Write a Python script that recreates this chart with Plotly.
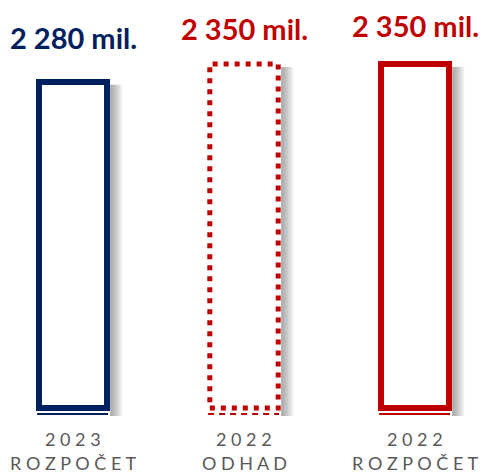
import plotly.graph_objects as go

# ---- data ----
YEARS = ["2023", "2022", "2022"]
KINDS = ["ROZPOČET", "ODHAD", "ROZPOČET"]
VALUES = [2280, 2350, 2350]
VALUE_LABELS = ["2 280 mil.", "2 350 mil.", "2 350 mil."]

# ---- style ----
NAVY = "#002060"
RED = "#C00000"
GRAY_TXT = "#595959"
EDGE_COLORS = [NAVY, RED, RED]
EDGE_DASH = [None, "5px,6px", None]
LABEL_SHIFT = [44, 35, 38]
AXIS_BASE = 1000
BAR_W = 0.4
LINE_W = 6
FONT = "Lato"

def spaced(s):
    return " ".join(list(s))

cats = [f"{y} {k}" for y, k in zip(YEARS, KINDS)]

fig = go.Figure()
shapes = []
annotations = []

for i, (c, v) in enumerate(zip(cats, VALUES)):
    dashed = EDGE_DASH[i] is not None
    fig.add_trace(go.Bar(
        x=[c], y=[v - AXIS_BASE], base=[AXIS_BASE], width=[BAR_W],
        marker=dict(color="white",
                    line=dict(color=EDGE_COLORS[i], width=0 if dashed else LINE_W)),
        hoverinfo="skip", showlegend=False,
    ))
    # soft shadow on the right side
    for k in range(1, 8):
        shapes.append(dict(
            type="rect", xref="x", yref="y", layer="below",
            xsizemode="pixel", xanchor=i + BAR_W / 2,
            x0=LINE_W / 2, x1=LINE_W / 2 + 1.7 * k,
            ysizemode="pixel", yanchor=AXIS_BASE,
            y0=-8, y1=(v - AXIS_BASE) * 0.2548 - 3,
            fillcolor="rgba(90,90,90,0.09)", line=dict(width=0),
        ))
    if dashed:
        shapes.append(dict(
            type="rect", xref="x", yref="y", layer="above",
            x0=i - BAR_W / 2, x1=i + BAR_W / 2, y0=AXIS_BASE, y1=v,
            line=dict(color=EDGE_COLORS[i], width=5, dash=EDGE_DASH[i]),
            fillcolor="rgba(0,0,0,0)",
        ))
    # thin baseline under each bar
    shapes.append(dict(
        type="line", xref="x", yref="y", layer="above",
        x0=i - BAR_W / 2 - 0.01, x1=i + BAR_W / 2 + 0.005,
        ysizemode="pixel", yanchor=AXIS_BASE, y0=-6, y1=-6,
        line=dict(color=EDGE_COLORS[i], width=2,
                  dash="6px,5px" if dashed else "solid"),
    ))
    annotations.append(dict(
        x=i, y=v, xref="x", yref="y", text=f"<b>{VALUE_LABELS[i]}</b>",
        showarrow=False, yanchor="middle", yshift=LABEL_SHIFT[i],
        font=dict(family=FONT, size=29, color=EDGE_COLORS[i]),
    ))
    annotations.append(dict(
        x=i, y=AXIS_BASE, xref="x", yref="y", text=spaced(YEARS[i]),
        showarrow=False, yanchor="middle", yshift=-31,
        font=dict(family=FONT, size=18, color=GRAY_TXT),
    ))
    annotations.append(dict(
        x=i, y=AXIS_BASE, xref="x", yref="y", text=spaced(KINDS[i]),
        showarrow=False, yanchor="middle", yshift=-55,
        font=dict(family=FONT, size=18, color=GRAY_TXT),
    ))

fig.update_layout(
    width=481, height=474,
    margin=dict(l=0, r=0, t=0, b=0),
    paper_bgcolor="white", plot_bgcolor="white",
    shapes=shapes, annotations=annotations,
    xaxis=dict(type="category", range=[-0.427, 2.386], visible=False,
               categoryorder="array", categoryarray=cats),
    yaxis=dict(range=[741, 2601], visible=False),
    bargap=0,
)

fig.write_html(
    "out.html",
    config={"displayModeBar": False},
    post_script="document.body.style.margin='0';document.body.style.overflow='hidden';",
)
